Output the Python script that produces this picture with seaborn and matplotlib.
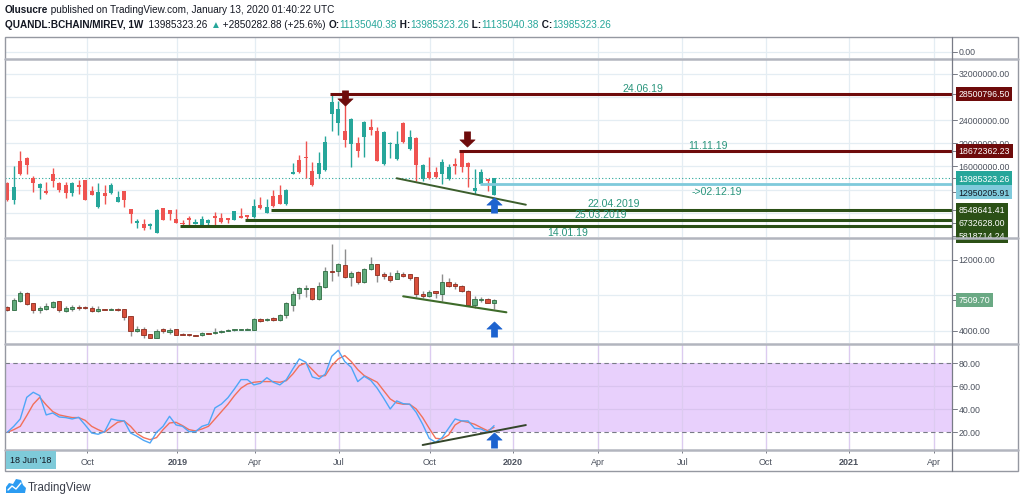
import numpy as np
import matplotlib
matplotlib.use("Agg")
import matplotlib.pyplot as plt
import matplotlib.transforms as mtransforms
from matplotlib.lines import Line2D
from matplotlib.patches import Rectangle, Polygon
from matplotlib.path import Path
import seaborn as sns

W, H = 1024, 502

# ---- values ----
# QUANDL:BCHAIN/MIREV weekly candles (millions)
mirev_open = [13.16, 10.2, 16.95, 17.5, 13.97, 12.24, 11.8, 14.7, 13.16, 12.86,
              11.4, 12.8, 13.6, 11.83, 8.97, 11.43, 11.4, 9.93, 11.72, 8.67,
              6.21, 6.09, 5.69, 4.53, 8.84, 8.5, 6.95, 6.26, 7.17, 6.14,
              5.97, 6.31, 7.41, 7.07, 7.12, 6.78, 7.41, 7.64, 7.3, 9.41,
              7.98, 10.9, 11.1, 9.48, 14.76, 17.07, 17.64, 15.23, 14.76, 15.4,
              25.05, 23.45, 22.17, 19.88, 20.0, 21.03, 22.86, 22.17, 16.43, 19.83,
              17.29, 23.45, 19.02, 20.91, 13.84, 15.1, 15.0, 14.71, 13.84, 16.31,
              18.67, 16.6, 11.72, 12.98, 13.84, 11.135]
mirev_high = [13.3, 16.1, 18.7, 17.6, 14.3, 13.1, 13.4, 15.8, 13.3, 13.4,
              13.3, 13.7, 13.7, 12.59, 13.16, 12.8, 13.1, 11.8, 11.8, 8.7,
              6.9, 6.95, 6.2, 8.6, 8.9, 8.55, 8.67, 6.78, 7.4, 6.95,
              7.41, 7.0, 8.1, 7.9, 7.2, 8.4, 8.9, 7.7, 10.4, 10.7,
              10.4, 11.95, 12.8, 12.1, 16.6, 18.0, 20.45, 16.8, 18.55, 21.26,
              28.5, 27.34, 27.93, 24.3, 21.03, 23.8, 24.19, 22.76, 22.2, 20.2,
              22.17, 23.7, 22.29, 21.0, 16.4, 17.69, 15.86, 17.29, 16.43, 17.47,
              18.67, 16.7, 15.57, 15.57, 13.9, 13.985]
mirev_low = [10.0, 9.5, 14.6, 14.7, 11.55, 10.4, 11.3, 12.4, 11.55, 10.6,
             10.9, 11.26, 10.2, 11.0, 8.9, 9.53, 11.3, 9.8, 8.97, 6.21,
             5.35, 5.0, 5.2, 4.5, 6.7, 6.78, 6.2, 5.95, 5.97, 6.0,
             5.9, 5.8, 5.9, 6.2, 6.2, 6.7, 7.1, 6.66, 7.2, 8.7,
             7.9, 9.0, 9.5, 9.4, 14.7, 14.9, 13.97, 12.7, 13.97, 15.3,
             22.07, 21.48, 19.41, 15.97, 17.69, 17.59, 21.48, 16.9, 16.3, 17.47,
             17.2, 20.0, 18.9, 13.45, 13.45, 13.9, 14.0, 12.98, 13.7, 14.71,
             15.0, 12.41, 11.26, 12.9, 11.83, 11.135]
mirev_close = [10.22, 12.5, 14.76, 16.3, 13.2, 13.03, 11.43, 13.55, 11.95, 11.43,
               13.2, 12.5, 10.3, 11.14, 11.67, 10.97, 12.86, 10.7, 10.22, 7.76,
               6.6, 5.45, 6.09, 8.55, 6.78, 7.81, 6.26, 6.03, 6.72, 6.38,
               6.95, 6.78, 7.12, 6.48, 6.72, 8.33, 7.17, 7.36, 9.14, 8.8,
               8.97, 9.24, 9.53, 11.95, 15.05, 15.0, 17.47, 12.86, 16.6, 20.17,
               27.07, 25.91, 20.57, 24.19, 18.72, 23.62, 22.29, 17.0, 22.0, 20.1,
               19.88, 20.17, 21.14, 16.31, 16.26, 14.02, 14.14, 16.72, 15.86, 16.14,
               15.86, 15.86, 12.24, 15.0, 13.55, 13.985]

# second pane (price in USD)
btc_open = [6718, 6379, 7397, 8268, 7103, 6311, 6458, 6684, 7329, 6232,
            6458, 6718, 6650, 6605, 6198, 6430, 6400, 6458, 6458, 5633,
            3936, 4162, 3630, 3178, 4162, 3823, 4162, 3580, 3600, 3480,
            3480, 3700, 3700, 3823, 3970, 4060, 4140, 4117, 4117, 5327,
            5210, 5400, 5214, 5746, 6944, 8234, 8750, 8800, 7590, 8912,
            10790, 10756, 11470, 10110, 10680, 9478, 10950, 11510, 10420, 10190,
            9850, 10420, 10420, 10045, 8120, 7895, 8415, 8190, 9546, 9285,
            9093, 8528, 6910, 7460, 7590, 7137]
btc_high = [6800, 7668, 8528, 8350, 7150, 6820, 7137, 7397, 7400, 6800,
            6910, 6910, 6800, 6800, 6800, 6480, 6550, 6550, 6500, 5700,
            4500, 4400, 3650, 4200, 4330, 4270, 4200, 3800, 3650, 3550,
            3850, 3750, 4270, 4100, 4150, 4200, 4230, 4260, 5450, 5450,
            5450, 5600, 5900, 7200, 8550, 8900, 9200, 8850, 9480, 11170,
            13810, 11700, 13240, 10800, 10790, 11080, 12300, 11550, 10600, 10600,
            10850, 10600, 10450, 10100, 8500, 8600, 8450, 10420, 9990, 9480,
            9200, 8600, 7900, 7800, 7700, 7600]
btc_low = [6200, 6300, 7300, 6950, 5972, 5972, 6400, 6600, 6153, 6150,
           6200, 6300, 6450, 6150, 6150, 6350, 6300, 6280, 5214, 3438,
           3900, 3178, 3150, 3150, 3700, 3650, 3500, 3500, 3450, 3350,
           3450, 3600, 3650, 3800, 3950, 4000, 4100, 4100, 4100, 5000,
           5150, 5150, 5150, 5400, 6265, 7590, 7850, 7500, 7500, 8800,
           9590, 10160, 9930, 9093, 9270, 9400, 10900, 9478, 9900, 9500,
           9800, 10100, 9700, 7782, 7700, 7850, 7700, 7363, 9000, 8700,
           8400, 6800, 6600, 7250, 7100, 6458]
btc_close = [6311, 7442, 8234, 7024, 6311, 6605, 6763, 7250, 6345, 6571,
             6718, 6537, 6537, 6232, 6492, 6400, 6420, 6311, 5520, 4004,
             4196, 3551, 3178, 3970, 3936, 4117, 3551, 3540, 3500, 3370,
             3778, 3630, 3890, 4004, 4117, 4180, 4180, 4230, 5327, 5140,
             5360, 5214, 5813, 7103, 8155, 8800, 8800, 7590, 9093, 10790,
             10680, 11548, 10110, 10530, 9478, 10982, 11548, 10336, 10150, 9772,
             10500, 10225, 10000, 8155, 7895, 8415, 8340, 9546, 9093, 9025,
             8460, 6910, 7590, 7590, 7137, 7509.70]

# stochastic RSI
stoch_k = [20.0, 25.2, 31.6, 50.4, 54.8, 51.9, 35.1, 36.8, 33.3, 32.8,
           31.6, 33.0, 26.4, 19.4, 18.3, 20.6, 31.6, 30.4, 29.9, 19.4,
           16.5, 13.0, 10.7, 20.0, 25.2, 33.9, 26.4, 25.2, 20.6, 20.6,
           25.2, 27.0, 41.2, 44.6, 50.1, 57.7, 65.8, 65.8, 61.2, 62.6,
           67.5, 63.5, 61.2, 65.8, 75.1, 83.8, 80.9, 68.1, 66.4, 70.7,
           86.1, 91.3, 81.5, 76.5, 64.1, 68.7, 65.2, 58.3, 49.6, 40.3,
           47.3, 44.9, 44.4, 37.4, 27.0, 14.8, 11.3, 15.4, 23.5, 31.6,
           29.9, 29.9, 23.5, 22.9, 20.0, 25.8]
stoch_d = [20.0, 22.3, 25.2, 34.5, 44.4, 50.4, 43.8, 38.0, 35.1, 33.9,
           32.8, 32.8, 30.4, 25.2, 22.3, 20.0, 24.6, 28.7, 29.9, 25.2,
           18.8, 15.4, 13.6, 15.4, 22.3, 28.1, 28.7, 25.8, 22.3, 21.2,
           22.9, 25.2, 31.6, 38.0, 44.4, 51.9, 58.3, 62.0, 63.5, 64.1,
           64.1, 64.1, 63.5, 64.9, 70.7, 78.0, 80.3, 74.5, 68.7, 69.3,
           78.0, 83.8, 86.7, 81.5, 74.5, 69.3, 66.4, 63.5, 56.2, 49.0,
           45.5, 44.4, 44.4, 40.3, 32.8, 23.5, 14.8, 14.2, 17.7, 26.4,
           29.9, 28.7, 27.0, 24.1, 21.4, 24.3]

# horizontal levels drawn on the main pane
resist_levels = [28500796.50, 18672362.23]
resist_start = [50, 70]
resist_text = ["24.06.19", "11.11.19"]
support_levels = [8548641.41, 6732628.00, 5818714.24]
support_start = [41, 37, 27]
support_text = ["22.04.2019", "25.03.2019", "14.01.19"]
cyan_level = 12950205.91
cyan_start = 73
cyan_text = "->02.12.19"
last_close = 13985323.26

# time axis (week index of each label)
time_ticks = [12.3, 26.2, 38.2, 51.1, 65.1, 77.9, 91.0, 104.0, 116.9, 129.7, 142.8]
time_labels = ["Oct", "2019", "Apr", "Jul", "Oct", "2020", "Apr", "Jul", "Oct", "2021", "Apr"]

main_ticks = [32, 24, 20, 16]
btc_ticks = [12000, 8000, 4000]
stoch_ticks = [80, 60, 40, 20]

# ---- style ----
sns.set_theme(style="white")
plt.rcParams['font.family'] = ['Liberation Sans', 'DejaVu Sans']

UP, DOWN = "#26a69a", "#ef5350"
MAROON = "#6e0b0b"
DKGREEN = "#2b5016"
CYAN = "#7fcadb"
BLUE_ARROW = "#1d63cf"
GRID = "#e4edf3"
AXTXT = "#4c525e"
ANN = "#2a957c"
XMIN, XMAX = -0.35, 145.56

# thick arrow marker (points up); flipped for the down arrows
_arrow = [(0, 1), (1, 0.05), (0.42, 0.05), (0.42, -1), (-0.42, -1),
          (-0.42, 0.05), (-1, 0.05), (0, 1)]
UP_ARROW = Path(_arrow, closed=True)
DOWN_ARROW = Path([(x, -y) for x, y in _arrow], closed=True)


def fx(px):
    return px / W


def fy(px):
    return 1 - px / H


fig = plt.figure(figsize=(W / 100, H / 100), dpi=100)
fig.patch.set_facecolor("white")


def pane(top, bottom):
    ax = fig.add_axes([fx(5), fy(bottom), fx(952) - fx(5), (bottom - top) / H])
    ax.set_xlim(XMIN, XMAX)
    ax.set_xticks([])
    ax.set_yticks([])
    for s in ax.spines.values():
        s.set_visible(False)
    for t in time_ticks:
        ax.axvline(t, color=GRID, lw=0.9, zorder=0)
    return ax


def candles(ax, o, h, l, c, min_body, up, down, edge_up=None, edge_dn=None,
            wick=None, width=0.62, lw=0.0):
    o, h, l, c = (np.asarray(v, float) for v in (o, h, l, c))
    x = np.arange(len(o))
    rise = c >= o
    fill = np.where(rise, up, down)
    edges = np.where(rise, edge_up or up, edge_dn or down)
    wcol = [wick] * len(x) if wick else fill
    ax.vlines(x, l, h, colors=wcol, lw=1.0, zorder=3)
    body = np.maximum(np.abs(c - o), min_body)
    ax.bar(x, body, bottom=np.minimum(o, c) - (body - np.abs(c - o)) / 2,
           width=width, color=fill, edgecolor=edges, linewidth=lw, zorder=4)


def rlabel(ax, y, text, fc=None, tc=AXTXT, z=5):
    tr = mtransforms.blended_transform_factory(ax.transAxes, ax.transData)
    ax.plot([1.0, 1.005], [y, y], transform=tr, clip_on=False,
            color="#787b86", lw=0.7, zorder=z)
    kw = {}
    if fc:
        kw["bbox"] = dict(boxstyle="square,pad=0.3", fc=fc, ec="none")
    ax.text(1.0068, y, text, transform=tr, ha="left", va="center",
            fontsize=6.3, color=tc, zorder=z, clip_on=False, **kw)


def arrow(ax, x, y, color, up=True):
    ax.plot([x], [y], marker=UP_ARROW if up else DOWN_ARROW, ms=11,
            color=color, mec=color, mew=0.4, ls="none", zorder=8, clip_on=False)


# ---- mini pane at the top ----
ax_top = pane(38, 59)
ax_top.set_ylim(-0.286, 0.714)
ax_top.axhline(0, color=GRID, lw=0.9, zorder=0)
rlabel(ax_top, 0, "0.00")

# ---- main pane ----
ax_main = pane(60, 238)
ax_main.set_ylim(3.845, 34.53)
for v in range(8, 34, 4):
    ax_main.axhline(v, color=GRID, lw=0.9, zorder=0)
candles(ax_main, mirev_open, mirev_high, mirev_low, mirev_close, 0.25, UP, DOWN)
ax_main.axhline(last_close / 1e6, color=UP, lw=0.8, ls=(0, (1, 2)), zorder=2)

for lvl, st in zip(resist_levels, resist_start):
    ax_main.hlines(lvl / 1e6, st - 0.35, XMAX, color=MAROON, lw=2.2, zorder=5)
ax_main.text(97.9, resist_levels[0] / 1e6 + 1.03, resist_text[0], color=ANN, fontsize=7.6,
             ha="center", va="center", zorder=6)
ax_main.text(107.9, resist_levels[1] / 1e6 + 1.04, resist_text[1], color=ANN, fontsize=7.6,
             ha="center", va="center", zorder=6)

for lvl, st in zip(support_levels, support_start):
    ax_main.hlines(lvl / 1e6, st - 0.35, XMAX, color=DKGREEN, lw=2.2, zorder=5)
ax_main.text(93.5, support_levels[0] / 1e6 + 1.1, support_text[0], color=ANN, fontsize=7.6,
             ha="center", va="center", zorder=6)
ax_main.text(91.5, support_levels[1] / 1e6 + 1.08, support_text[1], color=ANN, fontsize=7.6,
             ha="center", va="center", zorder=6)
ax_main.text(86.4, support_levels[2] / 1e6 - 1.06, support_text[2], color=ANN, fontsize=7.6,
             ha="center", va="center", zorder=6, clip_on=False)

ax_main.hlines(cyan_level / 1e6, cyan_start - 0.2, XMAX, color=CYAN, lw=2.0, zorder=5)
ax_main.text(109.3, cyan_level / 1e6 - 1.12, cyan_text, color=ANN, fontsize=7.6,
             ha="center", va="center", zorder=6)

ax_main.plot([60.0, 79.9], [13.97, 9.41], color="#3c5e2c", lw=1.4, zorder=6)
arrow(ax_main, 52, 27.81, MAROON, up=False)
arrow(ax_main, 70.8, 20.74, MAROON, up=False)
arrow(ax_main, 75, 9.36, BLUE_ARROW)

for v in main_ticks:
    rlabel(ax_main, v, f"{v * 1e6:.2f}", z=5)
rlabel(ax_main, resist_levels[0] / 1e6, f"{resist_levels[0]:.2f}", fc=MAROON, tc="white", z=7)
rlabel(ax_main, resist_levels[1] / 1e6, f"{resist_levels[1]:.2f}", fc=MAROON, tc="white", z=7)
rlabel(ax_main, last_close / 1e6, f"{last_close:.2f}", fc=UP, tc="white", z=7)
rlabel(ax_main, cyan_level / 1e6 - 1.35, f"{cyan_level:.2f}", fc=CYAN, tc="#131722", z=7)
for lvl, y in zip(support_levels, [8.548641, 6.32, 4.1]):
    rlabel(ax_main, y, f"{lvl:.2f}", fc=DKGREEN, tc="white", z=7)

# ---- second pane ----
ax_btc = pane(240, 344)
ax_btc.set_ylim(2613, 14375)
for v in btc_ticks:
    ax_btc.axhline(v, color=GRID, lw=0.9, zorder=0)
candles(ax_btc, btc_open, btc_high, btc_low, btc_close, 150, "#5fa97a", "#d94f3b",
        edge_up="#2f6c42", edge_dn="#8c2d1f", wick="#8e8e8e", width=0.66, lw=0.6)
ax_btc.plot([61.0, 76.9], [7894, 6085], color="#3e6b2a", lw=1.5, zorder=6)
arrow(ax_btc, 75, 4196, BLUE_ARROW)
for v in btc_ticks:
    rlabel(ax_btc, v, f"{v:.2f}")
rlabel(ax_btc, btc_close[-1], f"{btc_close[-1]:.2f}", fc="#6aa984", tc="white", z=7)

# ---- stochastic RSI pane ----
ax_st = pane(346, 450)
ax_st.set_ylim(5.48, 95.9)
ax_st.axhspan(20, 80, color="#e8d0fc", zorder=0.5, lw=0)
for v in (40, 60):
    ax_st.axhline(v, color="#d9c4ef", lw=0.9, zorder=0.6)
for v in (20, 80):
    ax_st.axhline(v, color="#787b86", lw=0.8, ls=(0, (4, 3)), zorder=1)
for t in time_ticks:
    ax_st.axvline(t, color="#dccbf0", lw=0.9, zorder=0.7)
idx = np.arange(len(stoch_k))
sns.lineplot(x=idx, y=stoch_d, ax=ax_st, color="#f2705a", lw=1.0, zorder=3)
sns.lineplot(x=idx, y=stoch_k, ax=ax_st, color="#4ea6f7", lw=1.0, zorder=4)
ax_st.set_xlim(XMIN, XMAX)
ax_st.set_ylim(5.48, 95.9)
ax_st.set_xlabel("")
ax_st.set_ylabel("")
ax_st.set_yticks([])
ax_st.plot([64.0, 79.9], [8.96, 26.3], color="#34452a", lw=1.4, zorder=6)
arrow(ax_st, 75, 13.3, BLUE_ARROW)
for v in stoch_ticks:
    rlabel(ax_st, v, f"{v:.2f}")

# time axis
ax_st.set_xticks(time_ticks)
ax_st.set_xticklabels(time_labels)
ax_st.tick_params(axis="x", length=3, width=0.7, color="#787b86", labelsize=6.5,
                  labelcolor=AXTXT, pad=2.5, bottom=True)
for lab in ax_st.get_xticklabels():
    if lab.get_text().isdigit():
        lab.set_fontweight("bold")

# ---- frame and separators ----
lc = "#b2b5be"
fig.add_artist(Rectangle((fx(5), fy(472)), fx(1018) - fx(5), (472 - 38) / H,
                         fill=False, ec="#9598a1", lw=1.0, transform=fig.transFigure))
for yy in (59.5, 239, 345, 451):
    fig.add_artist(Line2D([fx(5), fx(1018)], [fy(yy), fy(yy)], color=lc, lw=1.8,
                          transform=fig.transFigure))
fig.add_artist(Line2D([fx(952), fx(952)], [fy(38), fy(472)], color="#787b86", lw=0.9,
                      transform=fig.transFigure))

fig.text(fx(31), fy(461), "18 Jun '18", fontsize=6.5, color="#131722", ha="center",
         va="center", bbox=dict(boxstyle="square,pad=0.45", fc="#7ecad9", ec="none"))

# ---- header ----
renderer = fig.canvas.get_renderer()


def runs(x_px, y_px, parts, size=7.2):
    x = x_px
    for s, col, wt in parts:
        t = fig.text(fx(x), fy(y_px), s, color=col, fontsize=size, fontweight=wt,
                     ha="left", va="center")
        x += t.get_window_extent(renderer=renderer).width


DARK = "#131722"
runs(5, 10, [("Olusucre", DARK, "bold"),
             (" published on TradingView.com, January 13, 2020 01:40:22 UTC", DARK, "normal")])
runs(5, 25, [("QUANDL:BCHAIN/MIREV, 1W", DARK, "bold"),
             ("  13985323.26 ", DARK, "normal"), ("▲", UP, "normal"),
             (" +2850282.88 (+25.6%) ", DARK, "normal"),
             ("O:", DARK, "bold"), ("11135040.38", UP, "normal"),
             (" H:", DARK, "bold"), ("13985323.26", UP, "normal"),
             (" L:", DARK, "bold"), ("11135040.38", UP, "normal"),
             (" C:", DARK, "bold"), ("13985323.26", UP, "normal")])

# ---- footer logo ----
cloud = Polygon([(fx(6), fy(494)), (fx(6), fy(488)), (fx(9), fy(484)), (fx(13), fy(485)),
                 (fx(16), fy(480)), (fx(21), fy(481)), (fx(23), fy(486)), (fx(26), fy(489)),
                 (fx(25), fy(494))], closed=True, fc="#2b9cf2", ec="none",
                transform=fig.transFigure)
fig.add_artist(cloud)
fig.add_artist(Line2D([fx(8), fx(12), fx(16), fx(21)], [fy(491), fy(487), fy(490), fy(484)],
                      color="white", lw=1.0, transform=fig.transFigure))
fig.text(fx(28), fy(488), "TradingView", fontsize=8.3, color="#3a3e4a", ha="left", va="center")

fig.savefig("out.png", dpi=100)
